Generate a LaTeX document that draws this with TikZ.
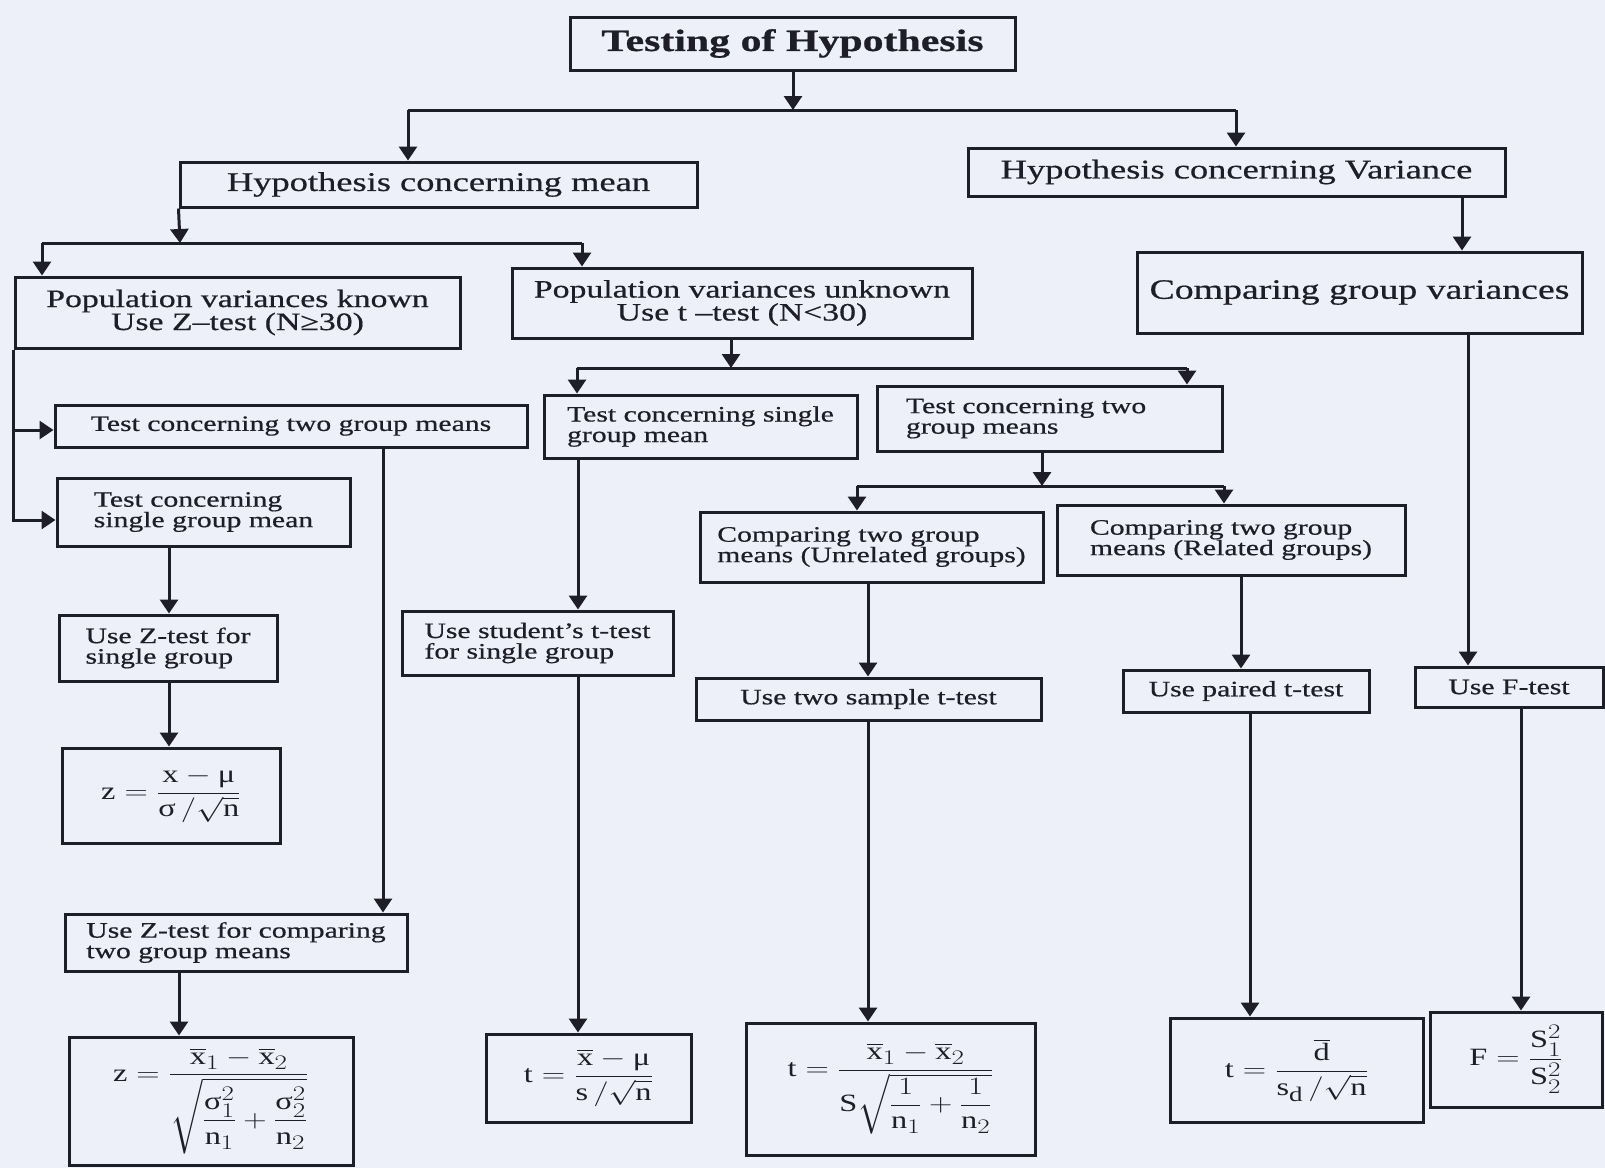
\documentclass[tikz,border=0pt]{standalone}
\usepackage{fontspec}
\usepackage{amsmath}
\usepackage{graphicx}
\setmainfont{Liberation Serif}
\newfontfamily\wf{Liberation Serif}[FakeStretch=1.35,FakeBold=0.6]
\usetikzlibrary{arrows.meta}
\definecolor{paper}{RGB}{237,239,249}
\definecolor{inkc}{RGB}{30,30,40}
\newcommand{\fm}[1]{\scalebox{1.3}[1]{\fontsize{24.88}{28}\selectfont$\displaystyle #1$}}
\newcommand{\ur}[1]{\mathrm{#1}}
\begin{document}
\begin{tikzpicture}[x=1pt,y=-1pt,
  box/.style={draw=inkc, line width=3pt, inner sep=0pt, text=inkc},
  ln/.style={draw=inkc, line width=3pt},
  arr/.style={ln, -{Triangle[width=18pt,length=14pt]}},
  fT/.style={font=\wf\bfseries\fontsize{31}{34}\selectfont},
  fH/.style={font=\wf\fontsize{27}{30}\selectfont},
  fG/.style={font=\wf\fontsize{28}{30}\selectfont},
  fP/.style={font=\wf\fontsize{25}{23}\selectfont},
  fS/.style={font=\wf\fontsize{22}{20.5}\selectfont},
]
\fill[paper] (0,0) rectangle (1605,1168);
\useasboundingbox (0,0) rectangle (1605,1168);

% boxes
\node[box,fT,minimum width=445pt,minimum height=53pt] (title) at (792.5,43.5) {Testing of Hypothesis};
\node[box,fH,minimum width=517pt,minimum height=45pt] (hcm) at (438.5,184.5) {Hypothesis concerning mean};
\node[box,fH,minimum width=537pt,minimum height=48pt] (hcv) at (1236.5,172) {Hypothesis concerning Variance};
\node[box,fG,minimum width=445pt,minimum height=81pt] (cgv) at (1359.5,292.5) {Comparing group variances};
\node[box,fP,align=center,minimum width=445pt,minimum height=71pt] (pvk) at (237.5,312.5) {Population variances known\\Use Z–test (N≥30)};
\node[box,fP,align=center,minimum width=460pt,minimum height=70pt] (pvu) at (742,303) {Population variances unknown\\Use t –test (N<30)};

\node[box,fS,minimum width=472pt,minimum height=42pt] (ttg1) at (291,426) {Test concerning two group means};
\node[box,fS,align=left,minimum width=293pt,minimum height=68pt] (tsg1) at (203.5,512) {Test concerning\\single group mean};
\node[box,fS,align=left,minimum width=218pt,minimum height=66pt] (uzs) at (168,648) {Use Z-test for\\single group};
\node[box,fS,align=left,minimum width=342pt,minimum height=57pt] (uzc) at (236,942.5) {Use Z-test for comparing\\two group means};

\node[box,fS,align=left,minimum width=313pt,minimum height=63pt] (tsg2) at (700.5,426.5) {Test concerning single\\group mean};
\node[box,fS,align=left,inner xsep=29pt,text width=287pt,minimum height=65pt] (ttg2) at (1049.5,418.5) {Test concerning two\\group means};
\node[box,fS,align=left,minimum width=271pt,minimum height=64pt] (ust) at (537.5,643) {Use student’s t-test\\for single group};
\node[box,fS,align=left,minimum width=343pt,minimum height=70pt] (cug) at (871.5,547) {Comparing two group\\means (Unrelated groups)};
\node[box,fS,align=left,minimum width=348pt,minimum height=70pt] (crg) at (1231,540) {Comparing two group\\means (Related groups)};
\node[box,fS,minimum width=345pt,minimum height=42pt] (u2s) at (868.5,699) {Use two sample t-test};
\node[box,fS,minimum width=246pt,minimum height=42pt] (upt) at (1246,691) {Use paired t-test};
\node[box,fS,minimum width=188pt,minimum height=40pt] (uft) at (1509,687) {Use F-test};

% formulas
\node[box,minimum width=218pt,minimum height=95pt] (f1) at (171,795.5)
  {\fm{\ur{z}=\dfrac{\ur{x}-\text{μ}}{\text{σ}\,/\sqrt{\ur{n}}}}};
\node[box,minimum width=284pt,minimum height=128pt] (f2) at (211,1101)
  {\fm{\ur{z}=\dfrac{\overline{\ur{x}}_1-\overline{\ur{x}}_2}{\sqrt{\dfrac{\text{σ}_1^2}{\ur{n}_1}+\dfrac{\text{σ}_2^2}{\ur{n}_2}}}}};
\node[box,minimum width=205pt,minimum height=88pt] (f3) at (588.5,1078)
  {\fm{\ur{t}=\dfrac{\overline{\ur{x}}-\text{μ}}{\ur{s}\,/\sqrt{\ur{n}}}}};
\node[box,minimum width=289pt,minimum height=132pt] (f4) at (890.5,1089)
  {\fm{\ur{t}=\dfrac{\overline{\ur{x}}_1-\overline{\ur{x}}_2}{\ur{S}\sqrt{\dfrac{1}{\ur{n}_1}+\dfrac{1}{\ur{n}_2}}}}};
\node[box,minimum width=253pt,minimum height=104pt] (f5) at (1296.5,1070)
  {\fm{\ur{t}=\dfrac{\overline{\ur{d}}}{\ur{s}_{\ur{d}}\,/\sqrt{\ur{n}}}}};
\node[box,minimum width=172pt,minimum height=95pt] (f6) at (1516,1059.5)
  {\fm{\ur{F}=\dfrac{\ur{S}_1^2}{\ur{S}_2^2}}};

% junction and guide coordinates
\coordinate (jt) at (793,110);
\coordinate (jl) at (408,110);
\coordinate (jr) at (1236,110);
\coordinate (j2m) at (180,243);
\coordinate (j2l) at (42,243);
\coordinate (j2r) at (582,243);
\coordinate (j3) at (731,368);
\coordinate (j3l) at (577,368);
\coordinate (j3r) at (1187,368);
\coordinate (j4) at (1042,486);
\coordinate (j4l) at (857,486);
\coordinate (j4r) at (1224,486);
\coordinate (g1) at (1462,0);
\coordinate (g2) at (383,0);
\coordinate (g3) at (169,0);
\coordinate (g4) at (179,0);
\coordinate (g5) at (578,0);
\coordinate (g6) at (868,0);
\coordinate (g7) at (1241,0);
\coordinate (g8) at (1250,0);
\coordinate (g9) at (1468,0);
\coordinate (g10) at (1521,0);

% connectors
\draw[arr] (title.south -| jt) -- (jt);
\draw[ln] (jl) -- (jr);
\draw[arr] (jl) -- (jl |- hcm.north);
\draw[arr] (jr) -- (jr |- hcv.north);
\draw[arr] (g1 |- hcv.south) -- (g1 |- cgv.north);

\draw[arr] (hcm.south west) -- (j2m);
\draw[ln] (j2l) -- (j2r);
\draw[arr] (j2l) -- (j2l |- pvk.north);
\draw[arr] (j2r) -- (j2r |- pvu.north);

\draw[arr] (pvk.south west) |- ([yshift=-8pt]tsg1.west);
\draw[arr] ([yshift=-4pt]pvk.south west |- ttg1.west) -- ([yshift=-4pt]ttg1.west);
\draw[arr] (g2 |- ttg1.south) -- (g2 |- uzc.north);
\draw[arr] (g3 |- tsg1.south) -- (g3 |- uzs.north);
\draw[arr] (g3 |- uzs.south) -- (g3 |- f1.north);
\draw[arr] (g4 |- uzc.south) -- (g4 |- f2.north);

\draw[arr] (j3 |- pvu.south) -- (j3);
\draw[ln] (j3l) -- (j3r);
\draw[arr] (j3l) -- (j3l |- tsg2.north);
\draw[arr] (j3r) -- (j3r |- ttg2.north);
\draw[arr] (g5 |- tsg2.south) -- (g5 |- ust.north);
\draw[arr] (g5 |- ust.south) -- (g5 |- f3.north);

\draw[arr] (j4 |- ttg2.south) -- (j4);
\draw[ln] (j4l) -- (j4r);
\draw[arr] (j4l) -- (j4l |- cug.north);
\draw[arr] (j4r) -- (j4r |- crg.north);
\draw[arr] (g6 |- cug.south) -- (g6 |- u2s.north);
\draw[arr] (g6 |- u2s.south) -- (g6 |- f4.north);
\draw[arr] (g7 |- crg.south) -- (g7 |- upt.north);
\draw[arr] (g8 |- upt.south) -- (g8 |- f5.north);

\draw[arr] (g9 |- cgv.south) -- (g9 |- uft.north);
\draw[arr] (g10 |- uft.south) -- (g10 |- f6.north);
\end{tikzpicture}
\end{document}
